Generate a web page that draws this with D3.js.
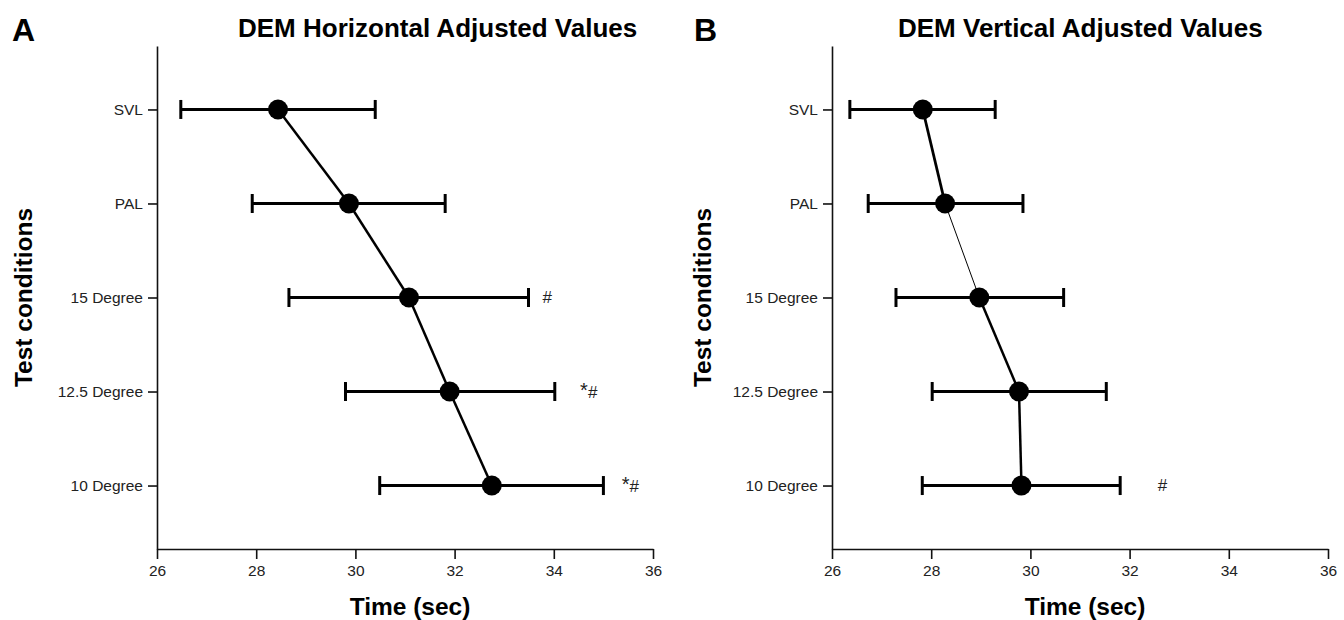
<!DOCTYPE html>
<html>
<head>
<meta charset="utf-8">
<script src="https://cdn.jsdelivr.net/npm/d3@7"></script>
<style>
    body { margin: 0; background: #fff; }
    svg { display: block; font-family: "Liberation Sans", Arial, sans-serif; }
    .axis path, .axis line { stroke: #111; stroke-width: 1.6; }
    .axis text { font-size: 15.5px; fill: #222; }
    .title { font-size: 26px; font-weight: bold; }
    .letter { font-size: 32px; font-weight: bold; }
    .label { font-size: 24.5px; font-weight: bold; }
    .note { font-size: 17px; fill: #222; }
</style>
</head>
<body>
<svg id="chart" width="1344" height="620"></svg>
<script>
const conditions = ["SVL", "PAL", "15 Degree", "12.5 Degree", "10 Degree"];
const xTicks = [26, 28, 30, 32, 34, 36];

// horizontal panel (A)
const horizMean = [28.44, 29.87, 31.08, 31.90, 32.75];
const horizLow = [26.48, 27.92, 28.66, 29.80, 30.49];
const horizHigh = [30.40, 31.81, 33.49, 34.02, 35.00];
const horizNotes = [
    { cond: "15 Degree", x: 33.77, star: "", hash: "#" },
    { cond: "12.5 Degree", x: 34.53, star: "*", hash: "#" },
    { cond: "10 Degree", x: 35.37, star: "*", hash: "#" }
];

// vertical panel (B)
const vertMean = [27.83, 28.28, 28.97, 29.77, 29.82];
const vertLow = [26.36, 26.73, 27.29, 28.02, 27.82];
const vertHigh = [29.29, 29.85, 30.67, 31.53, 31.81];
const vertNotes = [
    { cond: "10 Degree", x: 32.57, star: "", hash: "#" }
];

const svg = d3.select("#chart");
const plotTop = 46, plotBottom = 549, plotW = 496;

const yScale = d3.scalePoint()
    .domain(conditions)
    .range([plotTop, plotBottom])
    .padding(0.675);

function drawPanel(opts) {
    const data = conditions.map((c, i) => ({
        cond: c, mean: opts.mean[i], low: opts.low[i], high: opts.high[i]
    }));

    const xScale = d3.scaleLinear()
        .domain([26, 36])
        .range([opts.left, opts.left + plotW]);

    svg.append("g")
        .attr("class", "axis")
        .attr("transform", `translate(0, ${plotBottom})`)
        .call(d3.axisBottom(xScale).tickValues(xTicks).tickSize(10).tickSizeOuter(0).tickPadding(6));

    svg.append("g")
        .attr("class", "axis")
        .attr("transform", `translate(${opts.left}, 0)`)
        .call(d3.axisLeft(yScale).tickSize(9).tickSizeOuter(0).tickPadding(5));

    // connecting line, one segment at a time
    const segs = d3.pairs(data);
    svg.append("g")
        .selectAll("line")
        .data(segs)
        .enter()
        .append("line")
        .attr("x1", d => xScale(d[0].mean))
        .attr("y1", d => yScale(d[0].cond))
        .attr("x2", d => xScale(d[1].mean))
        .attr("y2", d => yScale(d[1].cond))
        .attr("stroke", "#000")
        .attr("stroke-width", (d, i) => opts.segW[i]);

    const bars = svg.append("g")
        .selectAll("g")
        .data(data)
        .enter()
        .append("g");

    bars.append("line")
        .attr("x1", d => xScale(d.low))
        .attr("x2", d => xScale(d.high))
        .attr("y1", d => yScale(d.cond))
        .attr("y2", d => yScale(d.cond))
        .attr("stroke", "#000")
        .attr("stroke-width", 3);

    ["low", "high"].forEach(k => {
        bars.append("line")
            .attr("x1", d => xScale(d[k]))
            .attr("x2", d => xScale(d[k]))
            .attr("y1", d => yScale(d.cond) - 9.5)
            .attr("y2", d => yScale(d.cond) + 9.5)
            .attr("stroke", "#000")
            .attr("stroke-width", 3);
    });

    bars.append("circle")
        .attr("cx", d => xScale(d.mean))
        .attr("cy", d => yScale(d.cond))
        .attr("r", 10)
        .attr("fill", "#000");

    const notes = svg.append("g")
        .selectAll("text")
        .data(opts.notes)
        .enter()
        .append("text")
        .attr("class", "note")
        .attr("x", d => xScale(d.x))
        .attr("y", d => yScale(d.cond) + 5);
    notes.append("tspan")
        .attr("font-size", "20px")
        .text(d => d.star);
    notes.append("tspan")
        .attr("dy", d => d.star ? 1.5 : 0)
        .text(d => d.hash);

    svg.append("text")
        .attr("class", "letter")
        .attr("x", opts.letterX)
        .attr("y", 41)
        .text(opts.letter);

    svg.append("text")
        .attr("class", "title")
        .attr("x", opts.titleX)
        .attr("y", 37)
        .text(opts.title);

    svg.append("text")
        .attr("class", "label")
        .attr("transform", `translate(${opts.left - opts.yLabelOff}, ${(plotTop + plotBottom) / 2}) rotate(-90)`)
        .attr("text-anchor", "middle")
        .attr("dy", "0.35em")
        .text("Test conditions");

    svg.append("text")
        .attr("class", "label")
        .attr("x", opts.left + plotW / 2 + 5)
        .attr("y", 615)
        .attr("text-anchor", "middle")
        .text("Time (sec)");
}

drawPanel({
    left: 157, mean: horizMean, low: horizLow, high: horizHigh,
    notes: horizNotes, segW: [2.5, 2.5, 2.5, 2.5],
    letter: "A", letterX: 12, title: "DEM Horizontal Adjusted Values", titleX: 238,
    yLabelOff: 134
});

drawPanel({
    left: 832, mean: vertMean, low: vertLow, high: vertHigh,
    notes: vertNotes, segW: [2.8, 1, 2.5, 2.5],
    letter: "B", letterX: 694, title: "DEM Vertical Adjusted Values", titleX: 898,
    yLabelOff: 130
});
</script>
</body>
</html>
